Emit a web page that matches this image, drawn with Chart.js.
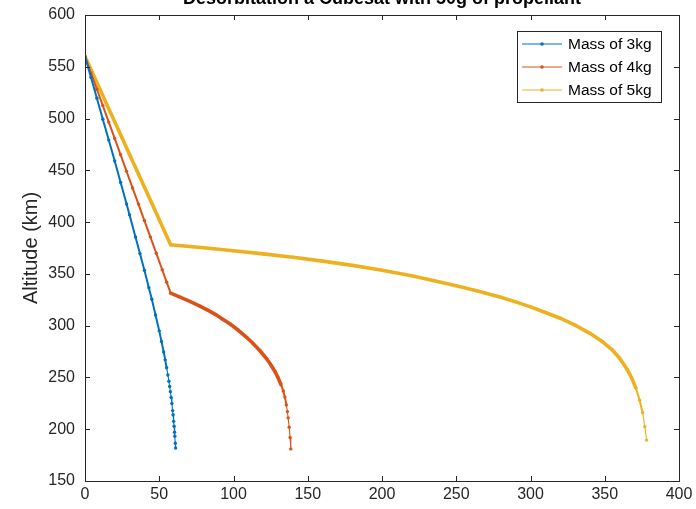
<!DOCTYPE html>
<html>
<head>
<meta charset="utf-8">
<script src="https://cdn.jsdelivr.net/npm/chart.js@4.4.1/dist/chart.umd.min.js"></script>
<style>
  html, body { margin: 0; padding: 0; background: #fff; }
  #wrap { width: 696px; height: 509px; }
</style>
</head>
<body>
<div id="wrap"><canvas id="chart" width="696" height="509"></canvas></div>
<script>
const titleText = "Desorbitation a Cubesat with 50g of propellant";
const yLabel = "Altitude (km)";
const seriesNames = ["Mass of 3kg", "Mass of 4kg", "Mass of 5kg"];
const seriesColors = ["#0072BD", "#D95319", "#EDB120"];

// days vs altitude
const days3 = [0, 4, 8, 12, 16, 20, 24, 28, 30, 34, 37, 40, 43, 45, 47.5, 50, 51.5, 53, 54, 55, 55.8, 56.5, 57, 57.5, 58, 58.5, 59, 59.3, 59.7, 60, 60.3, 60.5, 60.8, 61];
const alt3 = [560, 539.8, 519.6, 499.4, 479.2, 459, 438.2, 417.4, 407, 385.6, 369.6, 353.5, 336.7, 325.5, 310.3, 295, 284.8, 274.6, 267, 259.4, 252.4, 246.3, 241.3, 236.3, 230.6, 224.8, 218, 214, 207.6, 202.8, 197.1, 193.3, 186.4, 181.8];

const days4 = [0, 4, 8, 12, 16, 20, 24, 28, 32, 36, 40, 44, 48, 52, 55, 57.7, 64, 71, 77, 83, 88, 93, 98, 103, 109, 113, 118, 122.3, 125, 128, 130.1, 132, 133.5, 134.6, 135.6, 136.3, 136.8, 137.5, 138.1, 138.6];
const alt4 = [560, 544, 528.3, 512.5, 496.6, 480.8, 465, 449, 433, 417.4, 401.5, 385.7, 369.9, 354, 342, 331.4, 327.6, 323.2, 319.2, 314.8, 310.7, 306, 301.3, 295.8, 288.5, 283, 275.5, 268, 262.5, 255.5, 249.5, 243, 237, 231, 223.5, 217, 211, 202, 192, 181];

const days5 = [0, 5, 10, 15, 20, 25, 30, 35, 40, 45, 50, 55, 57.7, 80, 100, 120, 140, 160, 180, 190, 200, 220, 234.4, 250, 265, 280, 290, 300, 310, 320, 330, 340, 348, 355, 360, 365, 368, 371, 373.5, 375.5, 377, 378.2];
const alt5 = [560, 544.2, 528.5, 512.7, 496.9, 481.2, 465.4, 449.6, 433.8, 418.1, 402.3, 386.5, 378, 375.2, 372.4, 369.3, 366, 362.3, 358.2, 356, 353.6, 348.3, 343.6, 338.5, 333.2, 327.4, 323, 318.2, 312.7, 307.2, 300.5, 292.6, 285, 276.6, 268.6, 258, 250, 239.5, 228, 216, 202.5, 189.5];

const xTicks = [0, 50, 100, 150, 200, 250, 300, 350, 400];
const yTicks = [150, 200, 250, 300, 350, 400, 450, 500, 550, 600];

const axisColor = "#262626";
const fontFam = "'Liberation Sans', Arial, Helvetica, sans-serif";

function toPoints(xs, ys) {
  return xs.map((x, i) => ({ x, y: ys[i] }));
}

// thicker stroke where the original dots are packed tightly (slow descent)
function segWidth(ctx) {
  const ds = ctx.chart.data.datasets[ctx.datasetIndex].data;
  const dt = ds[ctx.p1DataIndex].x - ds[ctx.p0DataIndex].x;
  const len = Math.hypot(ctx.p1.x - ctx.p0.x, ctx.p1.y - ctx.p0.y);
  const speed = dt > 0 ? len / dt : 99;
  if (speed < 4) return 3.6;
  if (speed < 9) return 2;
  return 1.1;
}

const datasets = [
  [days3, alt3], [days4, alt4], [days5, alt5],
].map(([xs, ys], i) => ({
  label: seriesNames[i],
  data: toPoints(xs, ys),
  showLine: true,
  borderColor: seriesColors[i],
  backgroundColor: seriesColors[i],
  borderWidth: 1.1,
  pointRadius: 1.7,
  pointHoverRadius: 1.7,
  pointBorderWidth: 0,
  segment: { borderWidth: segWidth },
}));

const matlabFrame = {
  id: "matlabFrame",
  afterDraw(chart) {
    const { ctx, chartArea: a, scales } = chart;
    ctx.save();
    ctx.strokeStyle = axisColor;
    ctx.lineWidth = 1;
    const tl = 5;
    ctx.beginPath();
    xTicks.forEach((v) => {
      const px = Math.round(scales.x.getPixelForValue(v)) + 0.5;
      ctx.moveTo(px, a.bottom); ctx.lineTo(px, a.bottom - tl);
      ctx.moveTo(px, a.top); ctx.lineTo(px, a.top + tl);
    });
    yTicks.forEach((v) => {
      const py = Math.round(scales.y.getPixelForValue(v)) + 0.5;
      ctx.moveTo(a.left, py); ctx.lineTo(a.left + tl, py);
      ctx.moveTo(a.right, py); ctx.lineTo(a.right - tl, py);
    });
    ctx.stroke();
    ctx.strokeRect(Math.round(a.left) + 0.5, Math.round(a.top) + 0.5,
      Math.round(a.right - a.left), Math.round(a.bottom - a.top));

    // title (cut off at the top like the original)
    ctx.fillStyle = "#000";
    ctx.font = "bold 18px " + fontFam;
    ctx.textAlign = "center";
    ctx.textBaseline = "alphabetic";
    ctx.fillText(titleText, (a.left + a.right) / 2, 4);

    // legend box
    const box = { x: 517.5, y: 31.5, w: 144, h: 71 };
    ctx.fillStyle = "#fff";
    ctx.fillRect(box.x, box.y, box.w, box.h);
    ctx.strokeStyle = axisColor;
    ctx.strokeRect(box.x, box.y, box.w, box.h);
    ctx.font = "15.5px " + fontFam;
    ctx.textAlign = "left";
    ctx.textBaseline = "middle";
    chart.data.datasets.forEach((d, i) => {
      const y = 44 + i * 23;
      ctx.strokeStyle = d.borderColor;
      ctx.lineWidth = 1.2;
      ctx.beginPath();
      ctx.moveTo(522, y); ctx.lineTo(562, y);
      ctx.stroke();
      ctx.fillStyle = d.borderColor;
      ctx.beginPath();
      ctx.arc(542, y, 1.8, 0, Math.PI * 2);
      ctx.fill();
      ctx.fillStyle = "#000";
      ctx.fillText(d.label, 568, y + 1);
    });
    ctx.restore();
  },
};

new Chart(document.getElementById("chart"), {
  type: "scatter",
  data: { datasets },
  options: {
    responsive: false,
    animation: false,
    layout: { padding: { left: 0, top: 15, right: 17, bottom: 0 } },
    plugins: { legend: { display: false }, tooltip: { enabled: false } },
    scales: {
      x: {
        type: "linear",
        min: 0,
        max: 400,
        afterBuildTicks: (s) => { s.ticks = xTicks.map((v) => ({ value: v })); },
        afterFit: (s) => { s.height = 28; s.paddingLeft = 0; s.paddingRight = 0; },
        grid: { display: false, drawTicks: false },
        border: { display: false },
        ticks: { color: axisColor, font: { family: fontFam, size: 16 }, padding: 4, maxRotation: 0 },
      },
      y: {
        type: "linear",
        min: 150,
        max: 600,
        afterBuildTicks: (s) => { s.ticks = yTicks.map((v) => ({ value: v })); },
        afterFit: (s) => { s.width = 85; s.paddingTop = 0; s.paddingBottom = 0; },
        grid: { display: false, drawTicks: false },
        border: { display: false },
        ticks: { color: axisColor, font: { family: fontFam, size: 16 }, padding: 10 },
        title: {
          display: true,
          text: yLabel,
          color: axisColor,
          font: { family: fontFam, size: 20 },
          padding: { top: 19, bottom: 0 },
        },
      },
    },
  },
  plugins: [matlabFrame],
});
</script>
</body>
</html>
